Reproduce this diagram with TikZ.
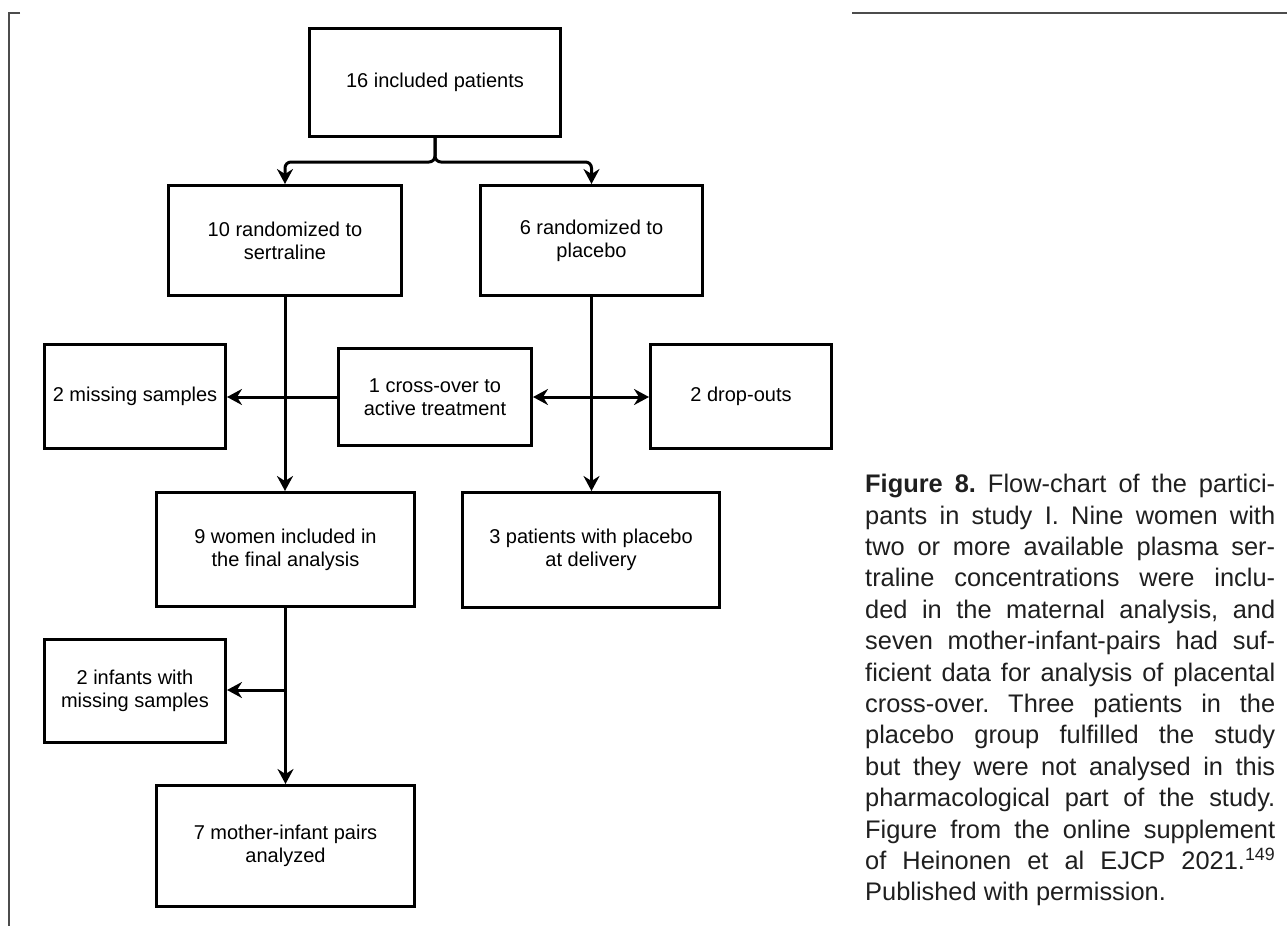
\documentclass[tikz,border=0pt]{standalone}
\usepackage{fontspec}
\setmainfont{Liberation Sans}
\usetikzlibrary{arrows.meta}
\begin{document}
\begin{tikzpicture}[x=1pt,y=-1pt,
  box/.style={draw=black, line width=3.2pt, inner sep=0pt, align=center, font=\fontsize{20}{23.3}\selectfont},
  conn/.style={line width=3pt, -{Stealth[length=15pt,width=16pt,inset=5pt]}},
  frameline/.style={draw=black!70, line width=1.7pt},
  ]
\useasboundingbox (0,0) rectangle (1287,926);
\fill[white] (0,0) rectangle (1287,926);

\node[box, minimum width=250.8pt, minimum height=107.8pt] (b16) at (435,82.5) {16 included patients};
\node[box, minimum width=232.8pt, minimum height=109.8pt] (bsert) at (285,240.5) {10 randomized to\\sertraline};
\node[box, minimum width=221.8pt, minimum height=109.8pt] (bplac) at (591.5,240.5) {6 randomized to\\placebo};
\node[box, minimum width=180.8pt, minimum height=103.8pt] (bmiss) at (135,396.5) {2 missing samples};
\node[box, minimum width=192.8pt, minimum height=96.8pt] (bcross) at (435,397) {1 cross-over to\\active treatment};
\node[box, minimum width=180.8pt, minimum height=103.8pt] (bdrop) at (741,396.5) {2 drop-outs};
\node[box, minimum width=257.8pt, minimum height=113.8pt] (bwomen) at (285.5,549.5) {9 women included in\\the final analysis};
\node[box, minimum width=256.8pt, minimum height=114.8pt] (bpat) at (591,550) {3 patients with placebo\\at delivery};
\node[box, minimum width=180.8pt, minimum height=102.8pt] (binf) at (135,691) {2 infants with\\missing samples};
\node[box, minimum width=257.8pt, minimum height=120.8pt] (bmoth) at (285.5,846) {7 mother-infant pairs\\analyzed};

\draw[conn, rounded corners=6pt] (b16.south) -- ++(0,24) -| (bsert.north);
\draw[conn, rounded corners=6pt] (b16.south) -- ++(0,24) -| (bplac.north);
\draw[conn] (bsert.south) -- (bsert.south |- bwomen.north);
\draw[conn] (bplac.south) -- (bplac.south |- bpat.north);
\draw[conn] (bcross.west) -- (bmiss.east |- bcross.west);
\coordinate (jp) at (bplac.south |- bcross.east);
\draw[conn] (jp) -- (bcross.east);
\draw[conn] (jp) -- (bdrop.west |- jp);
\draw[conn] (bwomen.south) -- (bwomen.south |- bmoth.north);
\coordinate (jw) at (285.5,690);
\draw[conn] (jw) -- (binf.east |- jw);

\draw[frameline] (20,13) -- (9,13) -- (9,926);
\draw[frameline] (852,13) -- (1287,13);

\node[anchor=north west, inner sep=0pt, align=left, text width=410pt,
      font=\fontsize{25.4}{31.4}\selectfont, text=black!88] (cap) at (865,474) {%
\spaceskip=0pt \xspaceskip=0pt \frenchspacing
\makebox[410pt][s]{\textbf{Figure 8.} Flow-chart of the partici-}\\
\makebox[410pt][s]{pants in study I. Nine women with}\\
\makebox[410pt][s]{two or more available plasma ser-}\\
\makebox[410pt][s]{traline concentrations were inclu-}\\
\makebox[410pt][s]{ded in the maternal analysis, and}\\
\makebox[410pt][s]{seven mother-infant-pairs had suf-}\\
\makebox[410pt][s]{ficient data for analysis of placental}\\
\makebox[410pt][s]{cross-over. Three patients in the}\\
\makebox[410pt][s]{placebo group fulfilled the study}\\
\makebox[410pt][s]{but they were not analysed in this}\\
\makebox[410pt][s]{pharmacological part of the study.}\\
\makebox[410pt][s]{Figure from the online supplement}\\
\makebox[410pt][s]{of Heinonen et al EJCP 2021.\textsuperscript{149}}\\
Published with permission.};
\end{tikzpicture}
\end{document}
